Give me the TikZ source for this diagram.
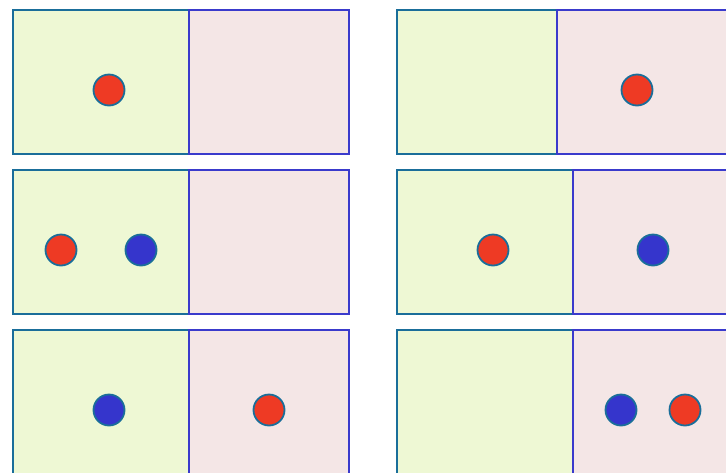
\documentclass[tikz,border=0pt]{standalone}
\begin{document}
\begin{tikzpicture}[x=1pt,y=-1pt,
  gbox/.style={draw=tealc,fill=greenf,line width=1.9pt},
  pbox/.style={draw=bluec,fill=pinkf,line width=1.9pt},
  rball/.style={circle,draw=tealc,fill=redf,line width=1.8pt,minimum size=31pt,inner sep=0pt},
  bball/.style={circle,draw=tealc,fill=bluef,line width=1.8pt,minimum size=31pt,inner sep=0pt}]
\definecolor{tealc}{HTML}{1A6E9A}
\definecolor{bluec}{HTML}{3A3ACC}
\definecolor{greenf}{HTML}{EEF8D4}
\definecolor{pinkf}{HTML}{F4E6E6}
\definecolor{redf}{HTML}{EE3A24}
\definecolor{bluef}{HTML}{3535CC}
\clip (0,0) rectangle (726,472);
\fill[white] (0,0) rectangle (726,472);
% left column
\draw[gbox] (13,10) rectangle (189,154);
\draw[pbox] (189,10) rectangle (349,154);
\draw[gbox] (13,170) rectangle (189,314);
\draw[pbox] (189,170) rectangle (349,314);
\draw[gbox] (13,330) rectangle (189,474);
\draw[pbox] (189,330) rectangle (349,474);
% right column
\draw[gbox] (397,10) rectangle (557,154);
\draw[pbox] (557,10) rectangle (733,154);
\draw[gbox] (397,170) rectangle (573,314);
\draw[pbox] (573,170) rectangle (733,314);
\draw[gbox] (397,330) rectangle (573,474);
\draw[pbox] (573,330) rectangle (733,474);
% balls
\node[rball] (a1) at (109,90) {};
\node[rball] (b1) at (637,90) {};
\node[rball] (a2r) at (61,250) {};
\node[bball] (a2b) at (141,250) {};
\node[rball] (b2r) at (493,250) {};
\node[bball] (b2b) at (653,250) {};
\node[bball] (a3b) at (109,410) {};
\node[rball] (a3r) at (269,410) {};
\node[bball] (b3b) at (621,410) {};
\node[rball] (b3r) at (685,410) {};
\end{tikzpicture}
\end{document}
